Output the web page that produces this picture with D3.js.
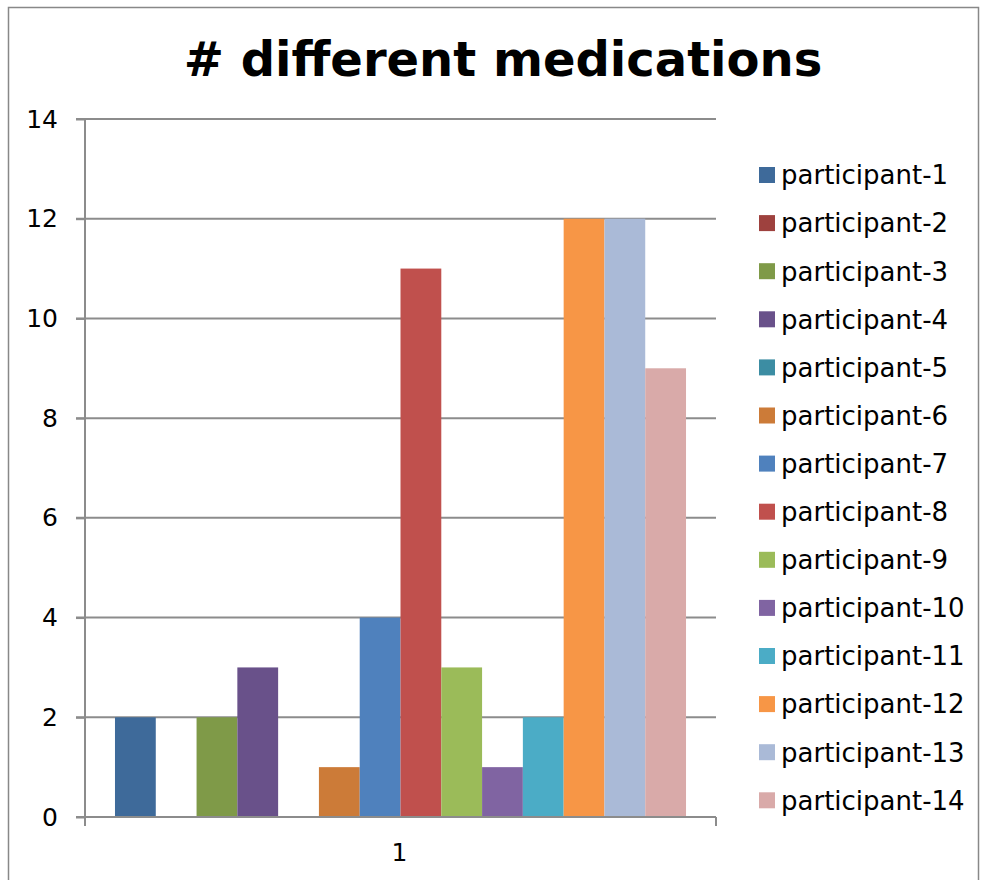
<!DOCTYPE html>
<html><head><meta charset="utf-8">
<script src="https://cdn.jsdelivr.net/npm/d3@7"></script>
<style>body{margin:0;background:#fff}svg{display:block}</style>
</head><body>
<svg id="c" width="986" height="880"></svg>
<script>
const categories = ["1"];
const participants = ["participant-1","participant-2","participant-3","participant-4","participant-5","participant-6","participant-7","participant-8","participant-9","participant-10","participant-11","participant-12","participant-13","participant-14"];
const values = [2,0,2,3,0,1,4,11,3,1,2,12,12,9];
const colors = ["#3E6A9A","#9E413E","#7F9A48","#69518A","#3C8DA3","#CC7B38","#4F81BD","#C0504D","#9BBB59","#8064A2","#4BACC6","#F79646","#AABAD7","#D9AAA9"];
const yTicks = [0,2,4,6,8,10,12,14];

const svg = d3.select("#c");
const font = "'DejaVu Sans', Verdana, sans-serif";
svg.append("rect").attr("x",8.5).attr("y",7.5).attr("width",970).attr("height",890)
  .attr("fill","#fff").attr("stroke","#888").attr("stroke-width",1.5);

const L=85, R=716, T=119, B=817;
const y = d3.scaleLinear().domain([0,14]).range([B,T]);
const x0 = d3.scaleBand().domain(categories).range([L,R]).paddingInner(0).paddingOuter(0);
const inner = d3.scaleBand().domain(participants).range([0,x0.bandwidth()]).paddingOuter(0.735).paddingInner(0);

// grid
svg.append("g").selectAll("line").data(yTicks).join("line")
  .attr("x1",L-9).attr("x2",R).attr("y1",d=>y(d)).attr("y2",d=>y(d))
  .attr("stroke","#8c8c8c").attr("stroke-width",2);

// bars
svg.append("g").selectAll("rect").data(participants.map((p,i)=>({p,v:values[i],c:colors[i]}))).join("rect")
  .attr("x",d=>x0("1")+inner(d.p)).attr("width",inner.bandwidth())
  .attr("y",d=>y(d.v)).attr("height",d=>B-y(d.v)).attr("fill",d=>d.c);

// y axis
const ya = svg.append("g").attr("transform",`translate(${L},0)`).call(d3.axisLeft(y).tickValues(yTicks).tickSize(9).tickPadding(18));
ya.select(".domain").remove();
ya.selectAll(".tick line").attr("stroke","#8c8c8c").attr("stroke-width",2);
ya.selectAll("text").attr("font-family",font).attr("font-size",25).attr("fill","#000");
svg.append("line").attr("x1",L).attr("x2",L).attr("y1",T).attr("y2",B+9).attr("stroke","#8c8c8c").attr("stroke-width",2);

// x axis
const xa = svg.append("g").attr("transform",`translate(0,${B})`).call(d3.axisBottom(x0).tickSize(0).tickPadding(26));
xa.select(".domain").remove();
xa.selectAll("text").attr("font-family",font).attr("font-size",25).attr("fill","#000").attr("dx",-1);
svg.append("line").attr("x1",L).attr("x2",R).attr("y1",B).attr("y2",B).attr("stroke","#8c8c8c").attr("stroke-width",2);
svg.append("line").attr("x1",R).attr("x2",R).attr("y1",B).attr("y2",B+9).attr("stroke","#8c8c8c").attr("stroke-width",2);

// title
svg.append("text").attr("x",503).attr("y",76).attr("text-anchor","middle")
  .attr("font-family",font).attr("font-weight","bold").attr("font-size",48).attr("fill","#000")
  .text("# different medications");

// legend
const lg = svg.append("g").selectAll("g").data(participants).join("g")
  .attr("transform",(d,i)=>`translate(759,${175+i*48.1})`);
lg.append("rect").attr("x",0).attr("y",-8).attr("width",16).attr("height",16).attr("fill",(d,i)=>colors[i]);
lg.append("text").attr("x",22).attr("y",0).attr("dy","0.36em").attr("font-family",font).attr("font-size",26).attr("fill","#000").text(d=>d);
</script>
</body></html>
